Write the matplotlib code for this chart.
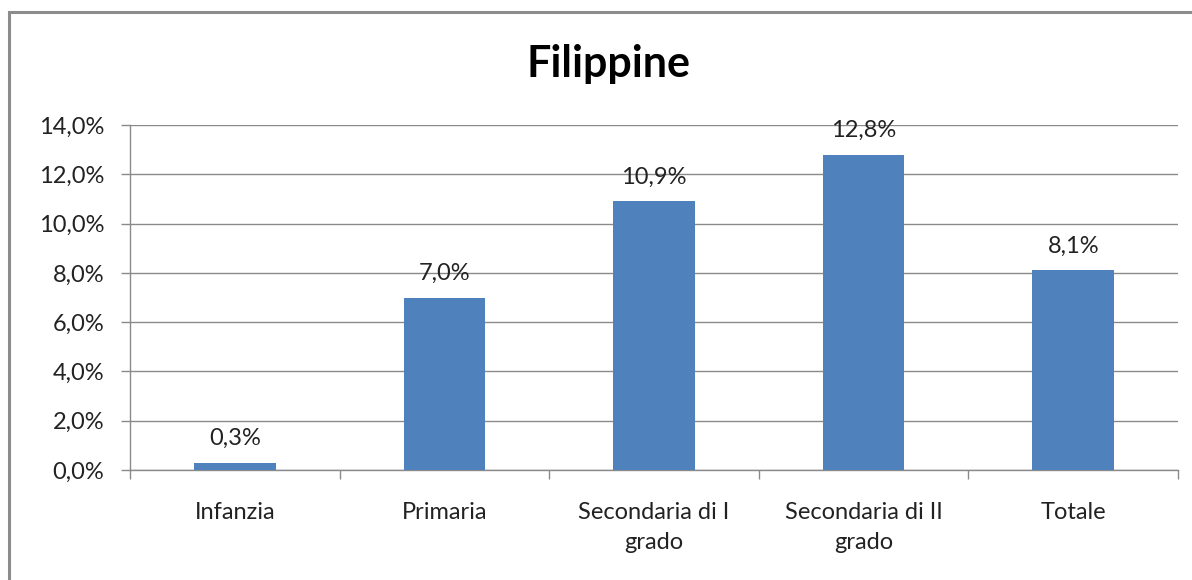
import matplotlib
matplotlib.use("Agg")
import matplotlib.pyplot as plt
from matplotlib.patches import Rectangle
from matplotlib.ticker import FuncFormatter, FixedLocator

categories = ["Infanzia", "Primaria", "Secondaria di I\ngrado", "Secondaria di II\ngrado", "Totale"]
values = [0.3, 7.0, 10.9, 12.8, 8.1]
value_labels = ["0,3%", "7,0%", "10,9%", "12,8%", "8,1%"]
y_ticks = [0, 2, 4, 6, 8, 10, 12, 14]
title = "Filippine"

plt.rcParams['font.family'] = ['Lato', 'DejaVu Sans']

W, H = 1192, 580
fig = plt.figure(figsize=(W / 100, H / 100), dpi=100)
fig.patch.set_facecolor("white")

# outer chart frame
fig.patches.append(Rectangle((9 / W, -0.05), 1.2, 1 - 12 / H + 0.05, transform=fig.transFigure,
                             fill=False, edgecolor="#8c8c8c", linewidth=2.2, zorder=0))

ax = fig.add_axes([130 / W, 1 - 470 / H, (1178 - 130) / W, (470 - 125) / H])
x = list(range(len(categories)))
ax.bar(x, values, width=0.39, color="#4F81BD", zorder=3)
ax.set_xlim(-0.5, len(categories) - 0.5)
ax.set_ylim(0, 14)

ax.set_yticks(y_ticks)
ax.yaxis.set_major_formatter(FuncFormatter(lambda v, p: f"{v:.1f}%".replace(".", ",")))
ax.yaxis.grid(True, color="#8a8a8a", linewidth=1.0, zorder=0)
ax.set_axisbelow(True)

ax.set_xticks(x)
ax.set_xticklabels(categories, fontsize=17, color="#222222", linespacing=1.55)
ax.tick_params(axis="x", length=0, pad=23)
ax.xaxis.set_minor_locator(FixedLocator([i - 0.5 for i in range(len(categories) + 1)]))
ax.tick_params(axis="x", which="minor", length=6.5, color="#8a8a8a", width=1)
ax.tick_params(axis="y", length=6.5, color="#8a8a8a", width=1, labelsize=17, labelcolor="#222222", pad=12)

for s in ["top", "right"]:
    ax.spines[s].set_visible(False)
for s in ["left", "bottom"]:
    ax.spines[s].set_color("#8a8a8a")
    ax.spines[s].set_linewidth(1.0)

for xi, v, lab in zip(x, values, value_labels):
    ax.annotate(lab, (xi, v), xytext=(0, 14), textcoords="offset pixels",
                ha="center", va="bottom", fontsize=17, color="#222222")

fig.text(608 / W, 1 - 64 / H, title, ha="center", va="center", fontsize=31, fontweight="bold", color="black")

fig.savefig("out.png", dpi=100, facecolor="white")
